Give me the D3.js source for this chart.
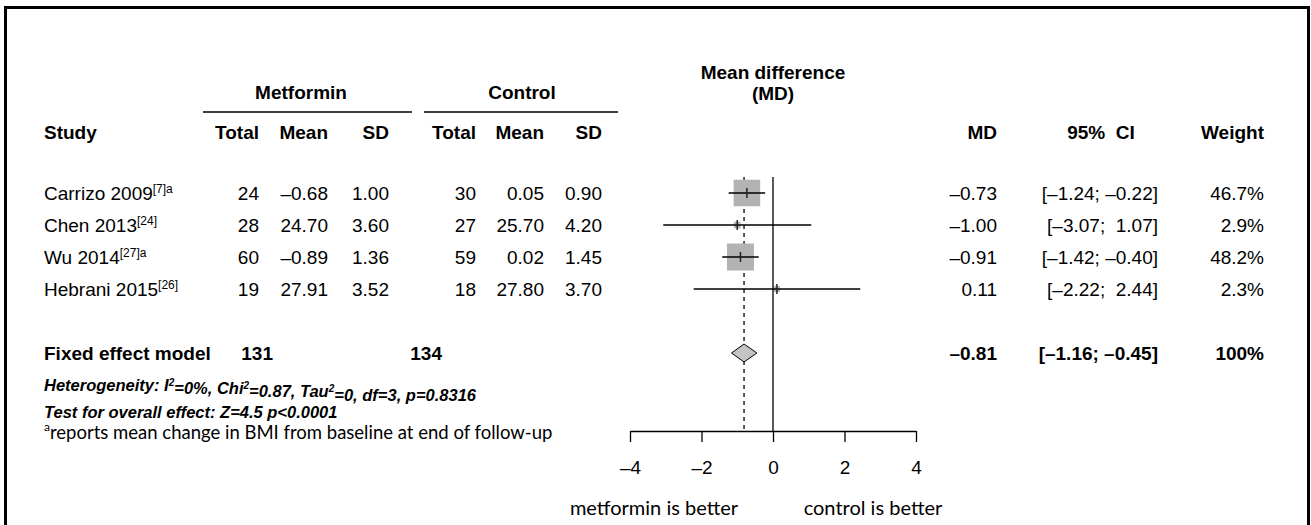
<!DOCTYPE html>
<html>
<head>
<meta charset="utf-8">
<script src="https://cdn.jsdelivr.net/npm/d3@7"></script>
<style>
  body { margin: 0; background: #fff; }
  svg text { font-family: "Liberation Sans", Arial, sans-serif; fill: #000; }
</style>
</head>
<body>
<svg id="chart" width="1311" height="525"></svg>
<script>
// study rows
const studies = ['Carrizo 2009', 'Chen 2013', 'Wu 2014', 'Hebrani 2015'];
const refs = ['[7]a', '[24]', '[27]a', '[26]'];
const metTotal = [24, 28, 60, 19];
const metMean = [-0.68, 24.70, -0.89, 27.91];
const metSD = [1.00, 3.60, 1.36, 3.52];
const conTotal = [30, 27, 59, 18];
const conMean = [0.05, 25.70, 0.02, 27.80];
const conSD = [0.90, 4.20, 1.45, 3.70];
const md = [-0.73, -1.00, -0.91, 0.11];
const ciLow = [-1.24, -3.07, -1.42, -2.22];
const ciHigh = [-0.22, 1.07, -0.40, 2.44];
const weight = [46.7, 2.9, 48.2, 2.3];

// pooled (fixed effect) row
const fixedTotals = [131, 134];
const fixedMD = -0.81;
const fixedLow = -1.16;
const fixedHigh = -0.45;
const fixedWeight = '100%';

const xTicks = [-4, -2, 0, 2, 4];

const svg = d3.select('#chart');

// frame round the whole figure (bottom edge is cut off in the original)
svg.append('rect').attr('x', 5.5).attr('y', 7.5).attr('width', 1303).attr('height', 600)
  .attr('fill', 'none').attr('stroke', '#000').attr('stroke-width', 3);

const x = d3.scaleLinear().domain([-4, 4]).range([630, 916]);
const row = d3.scaleLinear().domain([0, 1]).range([193, 225]); // row index -> y centre
const box = d3.scaleSqrt().domain([0, 48.2]).range([0, 27]);

// d3 v7 gives U+2212, the original uses an en dash
const dash = s => s.replace(/[\u2212-]/g, '\u2013');
const f2 = v => dash(d3.format('.2f')(v));
const pad = v => (v < 0 ? '' : ' ') + f2(v);
const ci = (lo, hi) => '[' + f2(lo) + '; ' + pad(hi) + ']';

function txt(xpos, y, s, anchor, size, weightStyle) {
  return svg.append('text').attr('x', xpos).attr('y', y).attr('dy', '0.35em')
    .attr('text-anchor', anchor || 'start')
    .style('font-size', (size || 19) + 'px')
    .style('font-weight', weightStyle || 'normal')
    .style('white-space', 'pre')
    .text(s);
}

// group headers
txt(301, 92, 'Metformin', 'middle', 19, 'bold');
txt(522, 92, 'Control', 'middle', 19, 'bold');
txt(773, 72, 'Mean difference', 'middle', 19, 'bold');
txt(773, 93, '(MD)', 'middle', 19, 'bold');
svg.append('line').attr('x1', 203).attr('x2', 412).attr('y1', 112).attr('y2', 112)
  .attr('stroke', '#000').attr('stroke-width', 1.5);
svg.append('line').attr('x1', 424).attr('x2', 618).attr('y1', 112).attr('y2', 112)
  .attr('stroke', '#000').attr('stroke-width', 1.5);

// column headers
const colRight = { mt: 259, mm: 328, ms: 389, ct: 476, cm: 544, cs: 602, md: 997, ci: 1158, w: 1264 };
const hy = 132;
txt(44, hy, 'Study', 'start', 19, 'bold');
txt(colRight.mt, hy, 'Total', 'end', 19, 'bold');
txt(colRight.mm, hy, 'Mean', 'end', 19, 'bold');
txt(colRight.ms, hy, 'SD', 'end', 19, 'bold');
txt(colRight.ct, hy, 'Total', 'end', 19, 'bold');
txt(colRight.cm, hy, 'Mean', 'end', 19, 'bold');
txt(colRight.cs, hy, 'SD', 'end', 19, 'bold');
txt(colRight.md, hy, 'MD', 'end', 19, 'bold');
txt(1101, hy, '95%  CI', 'middle', 19, 'bold');
txt(colRight.w, hy, 'Weight', 'end', 19, 'bold');

// study table rows
studies.forEach(function(name, i) {
  const y = row(i);
  const t = txt(44, y, name);
  t.append('tspan').attr('dy', '-0.55em').style('font-size', '12px').text(refs[i]);
  txt(colRight.mt, y, String(metTotal[i]), 'end');
  txt(colRight.mm, y, f2(metMean[i]), 'end');
  txt(colRight.ms, y, f2(metSD[i]), 'end');
  txt(colRight.ct, y, String(conTotal[i]), 'end');
  txt(colRight.cm, y, f2(conMean[i]), 'end');
  txt(colRight.cs, y, f2(conSD[i]), 'end');
  txt(colRight.md, y, f2(md[i]), 'end');
  txt(colRight.ci, y, ci(ciLow[i], ciHigh[i]), 'end');
  txt(colRight.w, y, d3.format('.1f')(weight[i]) + '%', 'end');
});

// fixed effect row
const fy = row(5);
txt(44, fy, 'Fixed effect model', 'start', 19, 'bold');
txt(273, fy, String(fixedTotals[0]), 'end', 19, 'bold');
txt(442, fy, String(fixedTotals[1]), 'end', 19, 'bold');
txt(colRight.md, fy, f2(fixedMD), 'end', 19, 'bold');
txt(colRight.ci, fy, ci(fixedLow, fixedHigh), 'end', 19, 'bold');
txt(colRight.w, fy, fixedWeight, 'end', 19, 'bold');

// heterogeneity + overall test (bold italic)
const het = txt(44, row(6), 'Heterogeneity: I', 'start', 16.5, 'bold').style('font-style', 'italic');
het.append('tspan').attr('dy', '-0.5em').style('font-size', '10px').text('2');
het.append('tspan').attr('dy', '0.5em').text('=0%, Chi');
het.append('tspan').attr('dy', '-0.5em').style('font-size', '10px').text('2');
het.append('tspan').attr('dy', '0.5em').text('=0.87, Tau');
het.append('tspan').attr('dy', '-0.5em').style('font-size', '10px').text('2');
het.append('tspan').attr('dy', '0.5em').text('=0, df=3, p=0.8316');
txt(44, 412, 'Test for overall effect: Z=4.5 p<0.0001', 'start', 16.5, 'bold')
  .style('font-style', 'italic');

// footnote (Calibri-like face)
const foot = txt(44, 436, '', 'start', 18.5).style('font-family', 'Lato, "Open Sans", sans-serif');
foot.append('tspan').attr('dy', '-0.45em').style('font-size', '12px').text('a');
foot.append('tspan').attr('dy', '0.45em').text('reports mean change in BMI from baseline at end of follow-up');

// forest plot: reference lines
const lineTop = 177, axisY = 431;
svg.append('line').attr('x1', x(0)).attr('x2', x(0)).attr('y1', lineTop).attr('y2', axisY)
  .attr('stroke', '#000').attr('stroke-width', 1.3);
svg.append('line').attr('x1', x(fixedMD)).attr('x2', x(fixedMD)).attr('y1', lineTop).attr('y2', axisY)
  .attr('stroke', '#000').attr('stroke-width', 1.3).attr('stroke-dasharray', '4,4');

// weight squares
svg.selectAll('rect.box').data(md).enter().append('rect').attr('class', 'box')
  .attr('x', (d, i) => x(d) - box(weight[i]) / 2)
  .attr('y', (d, i) => row(i) - box(weight[i]) / 2)
  .attr('width', (d, i) => box(weight[i]))
  .attr('height', (d, i) => box(weight[i]))
  .attr('fill', '#b3b3b3');

// CI lines + point ticks
svg.selectAll('line.ci').data(md).enter().append('line').attr('class', 'ci')
  .attr('x1', (d, i) => x(ciLow[i])).attr('x2', (d, i) => x(ciHigh[i]))
  .attr('y1', (d, i) => row(i)).attr('y2', (d, i) => row(i))
  .attr('stroke', '#000').attr('stroke-width', 1.3);
svg.selectAll('line.pt').data(md).enter().append('line').attr('class', 'pt')
  .attr('x1', d => x(d)).attr('x2', d => x(d))
  .attr('y1', (d, i) => row(i) - 5).attr('y2', (d, i) => row(i) + 5)
  .attr('stroke', '#222').attr('stroke-width', 1.5);

// pooled diamond
const dh = 9;
svg.append('path')
  .attr('d', 'M' + x(fixedLow) + ',' + fy + 'L' + x(fixedMD) + ',' + (fy - dh) +
    'L' + x(fixedHigh) + ',' + fy + 'L' + x(fixedMD) + ',' + (fy + dh) + 'Z')
  .attr('fill', '#c4c4c4').attr('stroke', '#000').attr('stroke-width', 1);

// x axis
const axis = svg.append('g').attr('transform', 'translate(0,' + axisY + ')')
  .call(d3.axisBottom(x).tickValues(xTicks).tickSize(11).tickSizeOuter(0).tickFormat(d => dash(String(d))));
axis.select('.domain').attr('stroke', '#000').attr('stroke-width', 1.3);
axis.selectAll('.tick line').attr('stroke', '#000').attr('stroke-width', 1.3);
axis.selectAll('.tick text').attr('y', 36).attr('dy', '0.35em')
  .style('font-size', '19px').style('font-family', '"Liberation Sans", Arial, sans-serif');

// direction labels
txt(654, 508, 'metformin is better', 'middle', 20).style('font-family', 'Lato, "Open Sans", sans-serif');
txt(873, 508, 'control is better', 'middle', 20).style('font-family', 'Lato, "Open Sans", sans-serif');
</script>
</body>
</html>
